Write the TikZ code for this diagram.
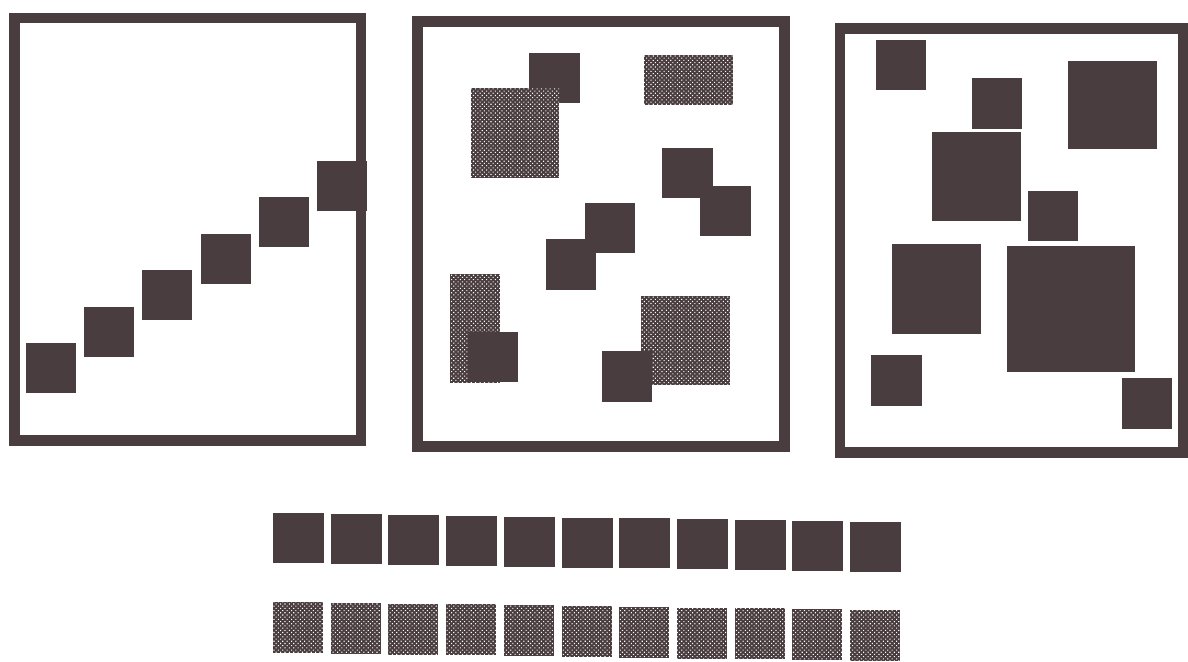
\documentclass[tikz,border=0pt]{standalone}
\usepackage{xcolor}
\usepackage{tikz}
\usetikzlibrary{patterns.meta}

\definecolor{ink}{RGB}{74,61,64}

\tikzset{
  panel/.style={draw=ink, line width=5.25pt},
  darksq/.style={fill=ink},
  dotsq/.style={fill=ink, postaction={pattern={Dots[distance=1.55pt, radius=0.38pt, angle=45]}, pattern color=white}}
}

\begin{document}
\begin{tikzpicture}[x=0.5pt, y=-0.5pt]
        \useasboundingbox (0,0) rectangle (1188,661);
        % three frames
        \draw[panel] (14.25,17.75) rectangle (360.75,440.25);
        \draw[panel] (417.25,21.25) rectangle (784.25,446.25);
        \draw[panel] (839.75,28.25) rectangle (1182.75,452.25);
        % left frame: staircase
	  \foreach \i in {0,...,5}
	  {
	  \fill[darksq] (26+58.2*\i,343-36.4*\i) rectangle ++(50,50);
	  }
        % middle frame
        \fill[darksq] (529,53) rectangle (580,103);
        \fill[dotsq] (471,88) rectangle (559,178);
        \fill[dotsq] (644,55) rectangle (733,105);
        \fill[darksq] (662,148) rectangle (713,198);
        \fill[darksq] (700,186) rectangle (751,236);
        \fill[darksq] (585,203) rectangle (635,253);
        \fill[darksq] (546,239) rectangle (596,290);
        \fill[dotsq] (450,274) rectangle (500,383);
        \fill[darksq] (468,332) rectangle (518,382);
        \fill[dotsq] (641,296) rectangle (730,385);
        \fill[darksq] (602,351) rectangle (652,402);
        % right frame
        \fill[darksq] (876,40) rectangle (926,90);
        \fill[darksq] (972,78) rectangle (1022,129);
        \fill[darksq] (1068,61) rectangle (1157,149);
        \fill[darksq] (932,132) rectangle (1021,221);
        \fill[darksq] (1028,191) rectangle (1078,241);
        \fill[darksq] (892,244) rectangle (981,334);
        \fill[darksq] (1007,246) rectangle (1135,372);
        \fill[darksq] (871,355) rectangle (922,406);
        \fill[darksq] (1122,378) rectangle (1172,429);
        % two rows of samples
	  \foreach \i in {0,...,10}
	  {
	  \fill[darksq] (273+57.7*\i,513+0.9*\i) rectangle ++(51,50);
	  \fill[dotsq] (273+57.7*\i,602+0.8*\i) rectangle ++(50,51);
	  }
    \end{tikzpicture}
\end{document}
